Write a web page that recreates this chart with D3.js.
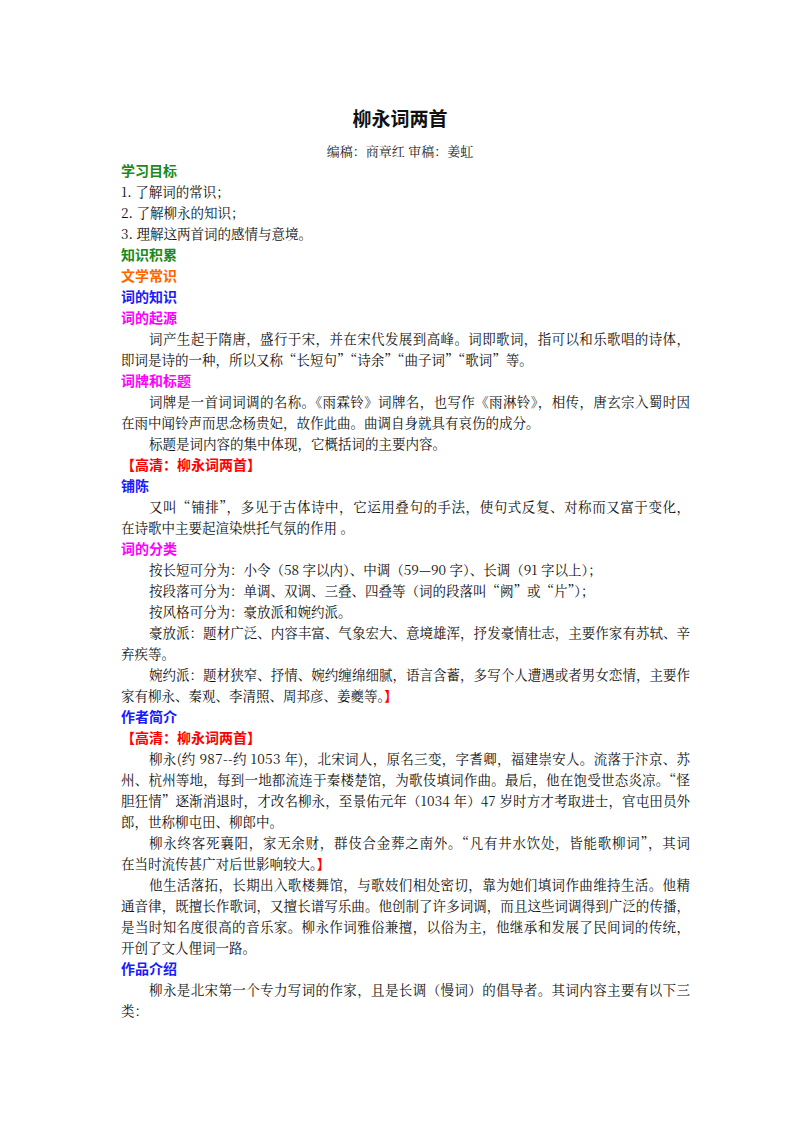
<!DOCTYPE html>
<html><head><meta charset="utf-8">
<script src="https://cdn.jsdelivr.net/npm/d3@7"></script>
<style>body{margin:0;background:#fff}svg{display:block}</style>
</head><body><svg id="page" width="800" height="1132"></svg>
<script>
// line kinds: h=heading (colored, bold), p=first line of paragraph (indented), c=continuation, t=plain
const colors = {green:'#1a8a1a', orange:'#ff6600', blue:'#1a1aff', pink:'#ff00ff', red:'#ff0000', black:'#111'};
const lineKinds = ['h','t','t','t','h','h','h','h','p','c','h','p','c','p','h','h','p','c','h','p','p','p','p','c','p','c','h','h','p','c','c','c','p','c','p','c','c','c','h','p','c'];
const lineColors = ['green','black','black','black','green','orange','blue','pink','black','black','pink','black','black','black','red','blue','black','black','pink','black','black','black','black','black','black','black','blue','red','black','black','black','black','black','black','black','black','black','black','blue','black','black'];
const lineFull = [0,0,0,0,0,0,0,0,1,0,0,1,0,0,0,0,1,0,0,0,0,0,1,0,1,0,0,0,1,1,1,0,1,0,1,1,1,0,0,1,0];
const lineTexts = [
 '学习目标','1. 了解词的常识；','2. 了解柳永的知识；','3. 理解这两首词的感情与意境。',
 '知识积累','文学常识','词的知识','词的起源',
 '词产生起于隋唐，盛行于宋，并在宋代发展到高峰。词即歌词，指可以和乐歌唱的诗体，',
 '即词是诗的一种，所以又称“长短句”“诗余”“曲子词”“歌词”等。',
 '词牌和标题',
 '词牌是一首词词调的名称。《雨霖铃》词牌名，也写作《雨淋铃》，相传，唐玄宗入蜀时因',
 '在雨中闻铃声而思念杨贵妃，故作此曲。曲调自身就具有哀伤的成分。',
 '标题是词内容的集中体现，它概括词的主要内容。',
 '【高清：柳永词两首】','铺陈',
 '又叫“铺排”，多见于古体诗中，它运用叠句的手法，使句式反复、对称而又富于变化，',
 '在诗歌中主要起渲染烘托气氛的作用 。',
 '词的分类',
 '按长短可分为：小令（58 字以内）、中调（59—90 字）、长调（91 字以上）；',
 '按段落可分为：单调、双调、三叠、四叠等（词的段落叫“阙”或“片”）；',
 '按风格可分为：豪放派和婉约派。',
 '豪放派：题材广泛、内容丰富、气象宏大、意境雄浑，抒发豪情壮志，主要作家有苏轼、辛',
 '弃疾等。',
 '婉约派：题材狭窄、抒情、婉约缠绵细腻，语言含蓄，多写个人遭遇或者男女恋情，主要作',
 '家有柳永、秦观、李清照、周邦彦、姜夔等。|】',
 '作者简介','【高清：柳永词两首】',
 '柳永(约 987--约 1053 年)，北宋词人，原名三变，字耆卿，福建崇安人。流落于汴京、苏',
 '州、杭州等地，每到一地都流连于秦楼楚馆，为歌伎填词作曲。最后，他在饱受世态炎凉。“怪',
 '胆狂情”逐渐消退时，才改名柳永，至景佑元年（1034 年）47 岁时方才考取进士，官屯田员外',
 '郎，世称柳屯田、柳郎中。',
 '柳永终客死襄阳，家无余财，群伎合金葬之南外。“凡有井水饮处，皆能歌柳词”，其词',
 '在当时流传甚广对后世影响较大。|】',
 '他生活落拓，长期出入歌楼舞馆，与歌妓们相处密切，靠为她们填词作曲维持生活。他精',
 '通音律，既擅长作歌词，又擅长谱写乐曲。他创制了许多词调，而且这些词调得到广泛的传播，',
 '是当时知名度很高的音乐家。柳永作词雅俗兼擅，以俗为主，他继承和发展了民间词的传统，',
 '开创了文人俚词一路。',
 '作品介绍',
 '柳永是北宋第一个专力写词的作家，且是长调（慢词）的倡导者。其词内容主要有以下三',
 '类：'
];
const title = '柳永词两首';
const byline = '编稿：商章红 审稿：姜虹';

const svg = d3.select('#page');
const left = 121, right = 690;
const font = '"Noto Serif CJK SC","Noto Sans CJK SC",serif';
const headFont = '"Noto Sans CJK SC",sans-serif';
const y = d3.scaleLinear().domain([0, 1]).range([176, 197]);

svg.append('text').attr('x', 400).attr('y', 126).attr('text-anchor','middle')
  .attr('font-family', headFont).attr('font-size', 19).attr('font-weight','bold').attr('fill','#111').text(title);
svg.append('text').attr('x', 400).attr('y', 156).attr('text-anchor','middle')
  .attr('font-family', font).attr('font-size', 13).attr('fill','#222').text(byline);

lineTexts.forEach((s, i) => {
  const kind = lineKinds[i];
  const x = kind === 'p' ? left + 28 : left;
  const t = svg.append('text').attr('x', x).attr('y', y(i))
    .attr('font-family', kind === 'h' ? headFont : font)
    .attr('font-size', kind === 'h' ? 14 : 13.5)
    .attr('font-weight', kind === 'h' ? 'bold' : 'normal')
    .attr('fill', colors[lineColors[i]]);
  if (lineFull[i]) t.attr('textLength', right - x).attr('lengthAdjust', 'spacing');
  s.split('|').forEach((seg, j) => {
    t.append('tspan').attr('fill', j ? colors.red : null)
      .attr('font-family', j ? headFont : null)
      .attr('font-weight', j ? 'bold' : null).text(seg);
  });
});
</script></body></html>
